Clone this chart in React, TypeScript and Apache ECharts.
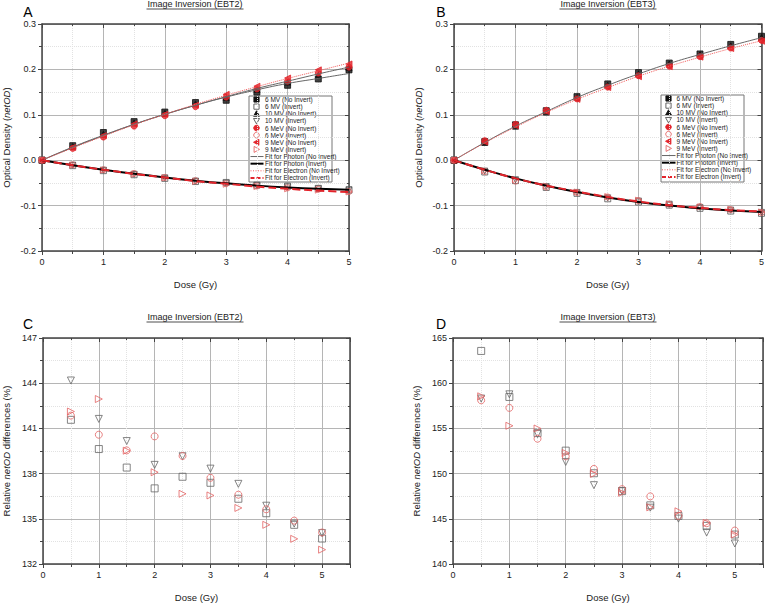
import React, { useEffect, useRef } from "react";
import * as echarts from "echarts";

const dose = [0, 0.5, 1, 1.5, 2, 2.5, 3, 3.5, 4, 4.5, 5];
const doseRel = [0.5, 1, 1.5, 2, 2.5, 3, 3.5, 4, 4.5, 5];

// Panel A (EBT2) netOD
const a6MVNo = [0, 0.032, 0.061, 0.085, 0.106, 0.127, 0.132, 0.150, 0.165, 0.179, 0.199];
const a6MVInv = [0, -0.012, -0.023, -0.032, -0.040, -0.047, -0.049, -0.055, -0.057, -0.062, -0.066];
const a10MVNo = [0, 0.030, 0.057, 0.082, 0.103, 0.124, 0.138, 0.156, 0.172, 0.187, 0.204];
const a10MVInv = [0, -0.011, -0.022, -0.031, -0.039, -0.046, -0.051, -0.056, -0.059, -0.063, -0.065];
const a6MeVNo = [0, 0.026, 0.051, 0.075, 0.098, 0.118, 0.139, 0.157, 0.174, 0.192, 0.205];
const a6MeVInv = [0, -0.010, -0.021, -0.029, -0.038, -0.045, -0.052, -0.057, -0.061, -0.064, -0.069];
const a9MeVNo = [0, 0.028, 0.054, 0.080, 0.101, 0.121, 0.145, 0.163, 0.181, 0.199, 0.212];
const a9MeVInv = [0, -0.011, -0.022, -0.031, -0.039, -0.047, -0.053, -0.058, -0.063, -0.066, -0.070];
const aFitPhotonNo1 = [0, 0.029, 0.055, 0.079, 0.101, 0.121, 0.139, 0.155, 0.169, 0.180, 0.191];
const aFitPhotonNo2 = [0, 0.028, 0.054, 0.079, 0.101, 0.121, 0.140, 0.158, 0.174, 0.190, 0.205];
const aFitPhotonInv = [0, -0.011, -0.021, -0.030, -0.038, -0.045, -0.051, -0.056, -0.060, -0.063, -0.065];
const aFitElectronNo = [0, 0.027, 0.053, 0.078, 0.101, 0.123, 0.143, 0.162, 0.180, 0.197, 0.214];
const aFitElectronInv = [0, -0.011, -0.021, -0.030, -0.038, -0.046, -0.052, -0.058, -0.063, -0.067, -0.070];

// Panel B (EBT3) netOD
const b6MVNo = [0, 0.041, 0.078, 0.109, 0.140, 0.168, 0.193, 0.214, 0.234, 0.255, 0.273];
const b6MVInv = [0, -0.026, -0.045, -0.060, -0.073, -0.085, -0.092, -0.099, -0.106, -0.112, -0.117];
const b10MVNo = [0, 0.039, 0.075, 0.106, 0.138, 0.165, 0.190, 0.212, 0.232, 0.252, 0.270];
const b10MVInv = [0, -0.024, -0.043, -0.058, -0.071, -0.083, -0.090, -0.097, -0.104, -0.110, -0.115];
const b6MeVNo = [0, 0.043, 0.079, 0.110, 0.135, 0.161, 0.186, 0.207, 0.228, 0.247, 0.264];
const b6MeVInv = [0, -0.025, -0.046, -0.059, -0.071, -0.081, -0.089, -0.097, -0.102, -0.109, -0.115];
const b9MeVNo = [0, 0.040, 0.076, 0.107, 0.134, 0.160, 0.184, 0.206, 0.227, 0.246, 0.262];
const b9MeVInv = [0, -0.023, -0.043, -0.057, -0.070, -0.080, -0.088, -0.096, -0.103, -0.108, -0.114];
const bFitPhotonNo = [0, 0.039, 0.075, 0.107, 0.138, 0.165, 0.190, 0.213, 0.233, 0.252, 0.270];
const bFitPhotonInv = [0, -0.021, -0.040, -0.056, -0.070, -0.082, -0.092, -0.100, -0.106, -0.111, -0.114];
const bFitElectronNo = [0, 0.038, 0.073, 0.105, 0.134, 0.160, 0.185, 0.207, 0.227, 0.246, 0.263];
const bFitElectronInv = [0, -0.021, -0.040, -0.056, -0.069, -0.081, -0.091, -0.099, -0.105, -0.110, -0.113];

// Panel C (EBT2) relative netOD differences (%)
const c6MV = [141.57, 139.63, 138.40, 137.02, 137.79, 137.39, 136.33, 135.37, 134.60, 133.69];
const c10MV = [144.18, 141.63, 140.16, 138.58, 139.15, 138.33, 137.32, 135.87, 134.68, 134.05];
const c6MeV = [141.85, 140.58, 139.54, 140.47, 139.17, 137.72, 136.60, 135.63, 134.88, 134.09];
const c9MeV = [142.12, 142.95, 139.52, 138.09, 136.66, 136.55, 135.72, 134.60, 133.67, 132.95];

// Panel D (EBT3) relative netOD differences (%)
const d6MV = [163.57, 158.48, 154.48, 152.54, 150.04, 148.06, 146.49, 145.32, 144.22, 143.26];
const d10MV = [158.30, 158.77, 154.37, 151.29, 148.72, 148.06, 146.23, 145.02, 143.48, 142.27];
const d6MeV = [158.11, 157.27, 153.86, 151.91, 150.52, 148.28, 147.48, 145.32, 144.51, 143.70];
const d9MeV = [158.55, 155.29, 154.99, 152.28, 149.97, 147.88, 146.27, 145.83, 144.55, 143.26];

const legendNames = [
  "6 MV (No Invert)",
  "6 MV (Invert)",
  "10 MV (No Invert)",
  "10 MV (Invert)",
  "6 MeV (No Invert)",
  "6 MeV (Invert)",
  "9 MeV (No Invert)",
  "9 MeV (Invert)",
  "Fit for Photon (No Invert)",
  "Fit for Photon (Invert)",
  "Fit for Electron (No Invert)",
  "Fit for Electron (Invert)",
];

const FONT = "'Liberation Sans', Arial, sans-serif";
const BLACK = "#111";
const GRAY = "#555";
const RED = "#e3242b";
const RED_OPEN = "#e46464";
const CLEAR = "rgba(0,0,0,0)";

type Mk = { symbol: string; rotate?: number; fill: string; border: string };
const MK: Record<string, Mk> = {
  sqFill: { symbol: "rect", fill: BLACK, border: BLACK },
  sqOpen: { symbol: "rect", fill: CLEAR, border: GRAY },
  triFill: { symbol: "triangle", fill: BLACK, border: BLACK },
  triDownOpen: { symbol: "triangle", rotate: 180, fill: CLEAR, border: GRAY },
  circFill: { symbol: "circle", fill: RED, border: RED },
  circOpen: { symbol: "circle", fill: CLEAR, border: RED_OPEN },
  triLeftFill: { symbol: "triangle", rotate: 90, fill: RED, border: RED },
  triRightOpen: { symbol: "triangle", rotate: -90, fill: CLEAR, border: RED_OPEN },
};
const legendMarkers = [MK.sqFill, MK.sqOpen, MK.triFill, MK.triDownOpen, MK.circFill, MK.circOpen, MK.triLeftFill, MK.triRightOpen];
const FIT_STYLES = [
  { color: "#666", width: 1, type: "solid", dash: null as number[] | null },
  { color: "#000", width: 2, type: "solid", dash: null as number[] | null },
  { color: "#f05a5a", width: 1, type: "dotted", dash: [1, 1.5] },
  { color: "#e3242b", width: 2, type: "dashed", dash: [4, 2] },
];

function zip(xs: number[], ys: number[]) {
  return ys.map((y, i) => [xs[i], y]);
}

function scatter(name: string, idx: number, xs: number[], ys: number[], mk: Mk, size = 6) {
  return {
    type: "scatter",
    name,
    xAxisIndex: idx,
    yAxisIndex: idx,
    data: zip(xs, ys),
    symbol: mk.symbol,
    symbolRotate: mk.rotate || 0,
    symbolSize: size,
    itemStyle: { color: mk.fill, borderColor: mk.border, borderWidth: 1 },
    z: 3,
  };
}

function fit(name: string, idx: number, ys: number[], k: number) {
  const st = FIT_STYLES[k];
  return {
    type: "line",
    name,
    xAxisIndex: idx,
    yAxisIndex: idx,
    data: zip(dose, ys),
    smooth: true,
    symbol: "none",
    showSymbol: false,
    lineStyle: { color: st.color, width: st.width, type: st.type },
    itemStyle: { color: st.color },
    z: 4,
  };
}

const grids = [
  { left: 41, top: 24, width: 308, height: 227 },
  { left: 454, top: 24, width: 308, height: 227 },
  { left: 41, top: 338, width: 309, height: 227 },
  { left: 453, top: 338, width: 310, height: 227 },
];

const yRanges = [
  { min: -0.2, max: 0.3, interval: 0.1, fmt: (v: number) => (Math.abs(v) < 1e-9 ? "0.0" : v.toFixed(1)) },
  { min: -0.2, max: 0.3, interval: 0.1, fmt: (v: number) => (Math.abs(v) < 1e-9 ? "0.0" : v.toFixed(1)) },
  { min: 132, max: 147, interval: 3, fmt: (v: number) => String(Math.round(v)) },
  { min: 140, max: 165, interval: 5, fmt: (v: number) => String(Math.round(v)) },
];
const xMax = [5, 5, 5.5, 5.5];

const gridLine = { show: true, lineStyle: { color: "#b5b5b5", width: 1 } };
const minorGridLine = { show: true, lineStyle: { color: "#e2e2e2", width: 1, type: "dotted" } };

function buildAxes() {
  const xAxes: any[] = [];
  const yAxes: any[] = [];
  for (let i = 0; i < 4; i++) {
    xAxes.push({
      type: "value",
      gridIndex: i,
      min: 0,
      max: xMax[i],
      interval: 1,
      name: "Dose (Gy)",
      nameLocation: "middle",
      nameGap: 28,
      nameTextStyle: { fontSize: 9.5, color: "#222", fontFamily: FONT },
      axisLine: { show: true, onZero: false, lineStyle: { color: "#444", width: 1.5 } },
      axisTick: { show: true, inside: false, length: 4, lineStyle: { color: "#444" } },
      minorTick: { show: true, splitNumber: 2, length: 3, lineStyle: { color: "#444" } },
      axisLabel: {
        fontSize: 9,
        color: "#222",
        fontFamily: FONT,
        margin: 6,
        formatter: (v: number) => (v > 5.2 ? "" : String(v)),
      },
      splitLine: gridLine,
      minorSplitLine: minorGridLine,
    });
    const yr = yRanges[i];
    const relative = i >= 2;
    yAxes.push({
      type: "value",
      gridIndex: i,
      min: yr.min,
      max: yr.max,
      interval: yr.interval,
      name: relative ? "Relative {i|netOD} differences (%)" : "Optical Density ({i|netOD})",
      nameLocation: "middle",
      nameGap: relative ? 32 : 31,
      nameRotate: 90,
      nameTextStyle: {
        fontSize: 9.5,
        color: "#222",
        fontFamily: FONT,
        rich: { i: { fontStyle: "italic", fontSize: 9.5, color: "#222", fontFamily: FONT } },
      },
      axisLine: { show: true, onZero: false, lineStyle: { color: "#444", width: 1.5 } },
      axisTick: { show: true, inside: false, length: 4, lineStyle: { color: "#444" } },
      minorTick: { show: true, splitNumber: 2, length: 3, lineStyle: { color: "#444" } },
      axisLabel: { fontSize: 9, color: "#222", fontFamily: FONT, margin: 6, formatter: yr.fmt },
      splitLine: gridLine,
      minorSplitLine: minorGridLine,
    });
  }
  for (let i = 0; i < 4; i++) {
    xAxes.push({
      type: "value",
      gridIndex: i,
      position: "top",
      min: 0,
      max: xMax[i],
      interval: 1,
      axisLine: { show: true, onZero: false, lineStyle: { color: "#444", width: 1.5 } },
      axisTick: { show: true, inside: true, length: 4, lineStyle: { color: "#444" } },
      minorTick: { show: true, splitNumber: 2, length: 2, lineStyle: { color: "#444" } },
      axisLabel: { show: false },
      splitLine: { show: false },
    });
    const yr = yRanges[i];
    yAxes.push({
      type: "value",
      gridIndex: i,
      position: "right",
      min: yr.min,
      max: yr.max,
      interval: yr.interval,
      axisLine: { show: true, onZero: false, lineStyle: { color: "#444", width: 1.5 } },
      axisTick: { show: true, inside: true, length: 4, lineStyle: { color: "#444" } },
      minorTick: { show: true, splitNumber: 2, length: 2, lineStyle: { color: "#444" } },
      axisLabel: { show: false },
      splitLine: { show: false },
    });
  }
  return { xAxes, yAxes };
}

function panelNetOD(
  idx: number,
  d: number[][],
  fitsPhotonNo: number[][],
  fitPhotonInv: number[],
  fitElectronNo: number[],
  fitElectronInv: number[]
) {
  const s: any[] = [];
  d.forEach((ys, k) => s.push(scatter(legendNames[k], idx, dose, ys, legendMarkers[k])));
  fitsPhotonNo.forEach((f) => s.push(fit(legendNames[8], idx, f, 0)));
  s.push(fit(legendNames[9], idx, fitPhotonInv, 1));
  s.push(fit(legendNames[10], idx, fitElectronNo, 2));
  s.push(fit(legendNames[11], idx, fitElectronInv, 3));
  return s;
}

function panelRel(idx: number, mv6: number[], mv10: number[], me6: number[], me9: number[], tag: string) {
  return [
    scatter(tag + " 6 MV", idx, doseRel, mv6, { ...MK.sqOpen, border: "#666" }, 7),
    scatter(tag + " 10 MV", idx, doseRel, mv10, { ...MK.triDownOpen, border: "#666" }, 7),
    scatter(tag + " 6 MeV", idx, doseRel, me6, MK.circOpen, 7),
    scatter(tag + " 9 MeV", idx, doseRel, me9, MK.triRightOpen, 7),
  ];
}

function markerShape(mk: Mk, cx: number, cy: number) {
  const style = { fill: mk.fill === CLEAR ? "none" : mk.fill, stroke: mk.border, lineWidth: 0.9 };
  const r = 2.6;
  if (mk.symbol === "rect") {
    return { type: "rect", shape: { x: cx - r, y: cy - r, width: 2 * r, height: 2 * r }, style };
  }
  if (mk.symbol === "circle") {
    return { type: "circle", shape: { cx, cy, r: r + 0.2 }, style };
  }
  const rot = mk.rotate || 0;
  let pts: number[][];
  if (rot === 0) pts = [[cx, cy - 3], [cx + 3, cy + 2.4], [cx - 3, cy + 2.4]];
  else if (rot === 180) pts = [[cx, cy + 3], [cx + 3, cy - 2.4], [cx - 3, cy - 2.4]];
  else if (rot === 90) pts = [[cx - 3, cy], [cx + 2.4, cy - 3], [cx + 2.4, cy + 3]];
  else pts = [[cx + 3, cy], [cx - 2.4, cy - 3], [cx - 2.4, cy + 3]];
  return { type: "polygon", shape: { points: pts }, style };
}

function legendGraphic(x0: number, y0: number, x1: number, y1: number, markerX: number, lineX1: number, lineX2: number, textX: number) {
  const children: any[] = [
    {
      type: "rect",
      shape: { x: x0, y: y0, width: x1 - x0, height: y1 - y0 },
      style: { fill: "#fff", stroke: "#777", lineWidth: 1 },
    },
  ];
  const firstY = y0 + 3.5;
  const step = 7.13;
  legendNames.forEach((name, i) => {
    const cy = firstY + i * step;
    if (i < 8) {
      children.push(markerShape(legendMarkers[i], markerX, cy));
    } else {
      const st = FIT_STYLES[i - 8];
      const style: any = { stroke: st.color, lineWidth: st.width };
      if (st.dash) style.lineDash = st.dash;
      children.push({ type: "line", shape: { x1: lineX1, y1: cy, x2: lineX2, y2: cy }, style });
    }
    children.push({
      type: "text",
      x: textX,
      y: cy,
      style: { text: name, fontSize: 6.5, fontFamily: FONT, fill: "#222", align: "left", verticalAlign: "middle" },
    });
  });
  return { type: "group", z: 100, children };
}

function titleGraphics(cx: number, cy: number, text: string) {
  const half = 48.5;
  return [
    {
      type: "text",
      x: cx,
      y: cy,
      style: { text, fontSize: 9, fontFamily: FONT, fill: "#222", align: "center", verticalAlign: "middle" },
    },
    {
      type: "line",
      shape: { x1: cx - half, y1: cy + 5, x2: cx + half, y2: cy + 5 },
      style: { stroke: "#222", lineWidth: 0.8 },
    },
  ];
}

function letter(x: number, y: number, t: string) {
  return {
    type: "text",
    x,
    y,
    style: { text: t, fontSize: 14, fontFamily: FONT, fill: "#000", align: "center", verticalAlign: "middle" },
  };
}

export default function App() {
  const ref = useRef<HTMLDivElement>(null);
  useEffect(() => {
    if (!ref.current) return;
    const chart = echarts.init(ref.current, undefined, { renderer: "svg" });
    const { xAxes, yAxes } = buildAxes();
    const series = [
      ...panelNetOD(
        0,
        [a6MVNo, a6MVInv, a10MVNo, a10MVInv, a6MeVNo, a6MeVInv, a9MeVNo, a9MeVInv],
        [aFitPhotonNo1, aFitPhotonNo2],
        aFitPhotonInv,
        aFitElectronNo,
        aFitElectronInv
      ),
      ...panelNetOD(
        1,
        [b6MVNo, b6MVInv, b10MVNo, b10MVInv, b6MeVNo, b6MeVInv, b9MeVNo, b9MeVInv],
        [bFitPhotonNo],
        bFitPhotonInv,
        bFitElectronNo,
        bFitElectronInv
      ),
      ...panelRel(2, c6MV, c10MV, c6MeV, c9MeV, "C"),
      ...panelRel(3, d6MV, d10MV, d6MeV, d9MeV, "D"),
    ];
    chart.setOption({
      animation: false,
      backgroundColor: "#fff",
      textStyle: { fontFamily: FONT },
      grid: grids,
      xAxis: xAxes,
      yAxis: yAxes,
      series,
      graphic: [
        ...titleGraphics(195, 4, "Image Inversion (EBT2)"),
        ...titleGraphics(608, 4, "Image Inversion (EBT3)"),
        ...titleGraphics(195, 317, "Image Inversion (EBT2)"),
        ...titleGraphics(608, 317, "Image Inversion (EBT3)"),
        letter(28, 12, "A"),
        letter(441, 12, "B"),
        letter(28, 324, "C"),
        letter(441, 324, "D"),
        legendGraphic(249, 96, 332, 182, 256.5, 250.5, 263.5, 265),
        legendGraphic(661, 95, 744, 182, 668.5, 662, 675.5, 676.5),
      ],
    });
    return () => chart.dispose();
  }, []);
  return (
    <div
      ref={ref}
      style={{ position: "fixed", left: 0, top: 0, width: 767, height: 603, background: "#fff" }}
    />
  );
}
